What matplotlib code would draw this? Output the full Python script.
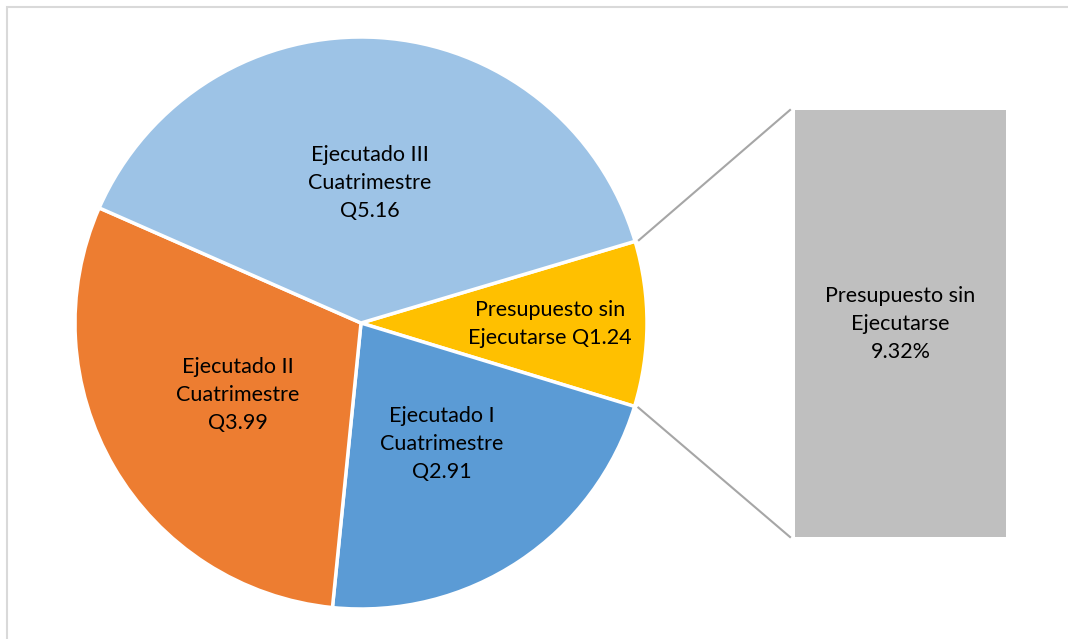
import numpy as np
import matplotlib.pyplot as plt
from matplotlib.patches import Rectangle

# ── data ────────────────────────────────────────────────────────────────
labels = ['Presupuesto sin\nEjecutarse', 'Ejecutado I\nCuatrimestre',
          'Ejecutado II\nCuatrimestre', 'Ejecutado III\nCuatrimestre']
values = [1.24, 2.91, 3.99, 5.16]
colors = ['#ffc000', '#5b9bd5', '#ed7d31', '#9dc3e6']
bar_label = 'Presupuesto sin\nEjecutarse'
bar_color = '#bfbfbf'

W, H = 1068, 639
plt.rcParams['font.family'] = ['Lato', 'DejaVu Sans']
FS, LS = 15.5, 1.5

fig = plt.figure(figsize=(W / 100, H / 100), dpi=100)
ax = fig.add_axes([0, 0, 1, 1])

cx, cy, r = 361, H - 323, 286
start = 16.6
wedges, _ = ax.pie(values, colors=colors, startangle=start, counterclock=False,
                   center=(cx, cy), radius=r, frame=True,
                   wedgeprops=dict(edgecolor='white', linewidth=2.5))
ax.set_xlim(0, W); ax.set_ylim(0, H)
ax.set_aspect('equal'); ax.axis('off')

total = sum(values)
dist = [0.66, 0.51, 0.5, 0.49]
for w, lab, v, d in zip(wedges, labels, values, dist):
    mid = np.deg2rad((w.theta1 + w.theta2) / 2)
    if lab.startswith('Presupuesto'):
        txt = lab.replace('\n', ' ').replace('sin ', 'sin\n') + f' Q{v:.2f}'
    else:
        txt = f'{lab}\nQ{v:.2f}'
    ax.text(cx + d * r * np.cos(mid), cy + d * r * np.sin(mid), txt,
            ha='center', va='center', fontsize=FS, linespacing=LS)

# ── bar of pie ──────────────────────────────────────────────────────────
bx0, bx1, by0, by1 = 795, 1006, H - 537, H - 110
ax.add_patch(Rectangle((bx0, by0), bx1 - bx0, by1 - by0, color=bar_color, lw=0))
pct = values[0] / total * 100
ax.text((bx0 + bx1) / 2, (by0 + by1) / 2, f'{bar_label}\n{pct:.2f}%',
        ha='center', va='center', fontsize=FS, linespacing=LS)

w0 = wedges[0]
for ang, yb in [(w0.theta2, by1), (w0.theta1, by0)]:
    a = np.deg2rad(ang)
    ax.plot([cx + (r + 4) * np.cos(a), bx0 - 5], [cy + (r + 4) * np.sin(a), yb],
            color='#a6a6a6', lw=1.5)

# outer chart border
ax.add_patch(Rectangle((7, -10), W + 10, H - 7 + 10, fill=False,
                       edgecolor='#d9d9d9', lw=1.5))

fig.savefig('out.png', dpi=100)
